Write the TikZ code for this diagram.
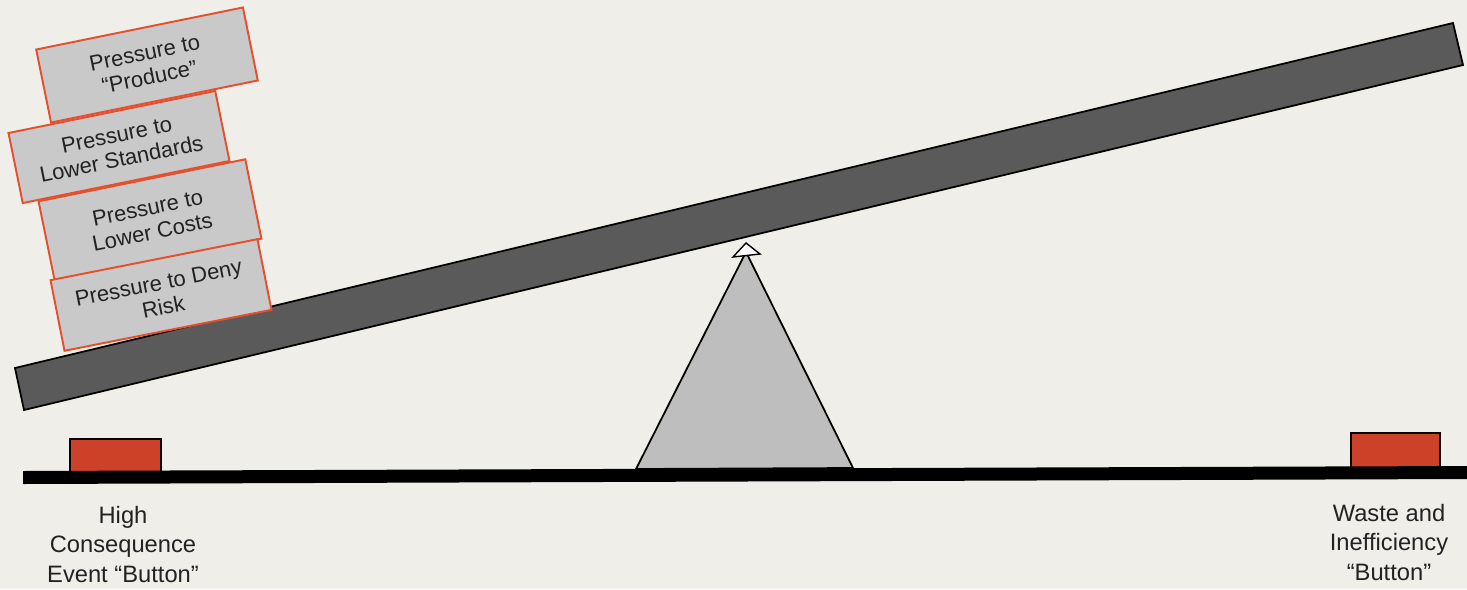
\documentclass[tikz,border=0pt]{standalone}
\usepackage{fontspec}
\setmainfont{Liberation Sans}
\definecolor{paper}{HTML}{EFEEE9}
\definecolor{boxgray}{HTML}{C9C9C9}
\definecolor{boxline}{HTML}{E4502E}
\definecolor{plankgray}{HTML}{5A5A5A}
\definecolor{fulcgray}{HTML}{BEBEBE}
\definecolor{btnred}{HTML}{CC4128}
\definecolor{textgray}{HTML}{222222}
\tikzset{
  pressure/.style={draw=boxline, fill=boxgray, line width=1.1pt, rotate=11.5,
    minimum width=4.22cm, inner sep=0pt, align=center, text=textgray,
    font=\fontsize{12.5}{14}\selectfont},
  button/.style={draw=black, fill=btnred, line width=0.6pt},
  caption/.style={align=center, anchor=north, inner sep=0pt, text=textgray,
    font=\fontsize{13.5}{16.7}\selectfont}
}
\begin{document}
\begin{tikzpicture}[x=0.02cm, y=-0.02cm]
  % Paper and margins
  \fill[paper] (0,0) rectangle (1467,589);
  \useasboundingbox (0,0) rectangle (1467,589);

  % Ground line with the two buttons
  \draw[button] (70,439) rectangle (161,472);
  \draw[button] (1351,433) rectangle (1440,468);
  \fill[black] (23,471) -- (1467,466) -- (1467,479) -- (23,484) -- cycle;

  % Fulcrum
  \draw[fill=fulcgray, line width=1pt] (636,469) -- (746,252) -- (853,468) -- cycle;
  \draw[fill=white, line width=0.8pt] (733,257) -- (746,243) -- (760,254) -- cycle;

  % Plank
  \draw[fill=plankgray, line width=1pt] (15,368) -- (1453,23) -- (1463,65) -- (24,410) -- cycle;

  % Stacked pressures
  \node[pressure, minimum height=1.49cm] (produce) at (147,65) {Pressure to\\``Produce''};
  \node[pressure, minimum height=1.43cm] (standards) at (119,147) {Pressure to\\Lower Standards};
  \node[pressure, minimum height=1.62cm] (costs) at (150,220) {Pressure to\\Lower Costs};
  \node[pressure, minimum height=1.44cm, rotate=-0.3] (risk) at (161,295) {Pressure to Deny\\Risk};

  % Button labels
  \node[caption] (highlabel) at (123,506) {High\\Consequence\\Event ``Button''};
  \node[caption] (wastelabel) at (1389,504) {Waste and\\Inefficiency\\``Button''};
\end{tikzpicture}
\end{document}
